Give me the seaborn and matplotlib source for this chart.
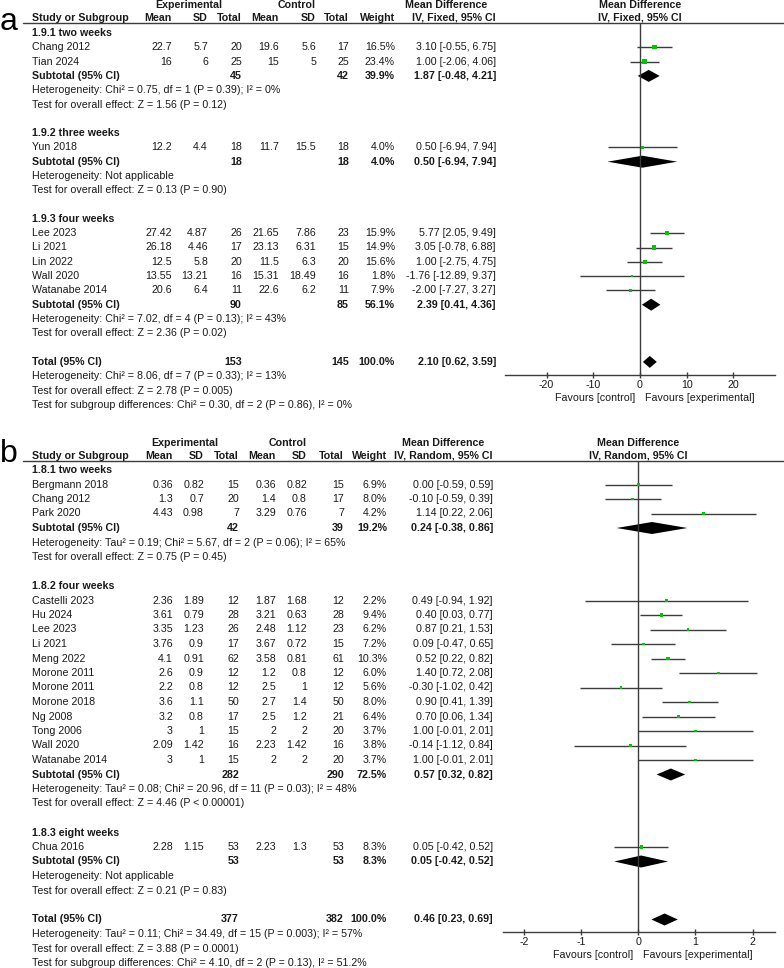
# forest plots: a = fixed effect, b = random effects

import matplotlib
matplotlib.use('Agg')
import matplotlib.pyplot as plt
import seaborn as sns

sns.set_style('white')
plt.rcParams['font.family'] = ['Liberation Sans', 'DejaVu Sans']

# ---------------- panel a ----------------
a_groups = ['1.9.1 two weeks', '1.9.2 three weeks', '1.9.3 four weeks']
a_study = ['Chang 2012', 'Tian 2024', 'Yun 2018', 'Lee 2023', 'Li 2021',
           'Lin 2022', 'Wall 2020', 'Watanabe 2014']
a_group_of = [0, 0, 1, 2, 2, 2, 2, 2]
a_mean_e = [22.7, 16, 12.2, 27.42, 26.18, 12.5, 13.55, 20.6]
a_sd_e = [5.7, 6, 4.4, 4.87, 4.46, 5.8, 13.21, 6.4]
a_n_e = [20, 25, 18, 26, 17, 20, 16, 11]
a_mean_c = [19.6, 15, 11.7, 21.65, 23.13, 11.5, 15.31, 22.6]
a_sd_c = [5.6, 5, 15.5, 7.86, 6.31, 6.3, 18.49, 6.2]
a_n_c = [17, 25, 18, 23, 15, 20, 16, 11]
a_weight = [16.5, 23.4, 4.0, 15.9, 14.9, 15.6, 1.8, 7.9]
a_md = [3.10, 1.00, 0.50, 5.77, 3.05, 1.00, -1.76, -2.00]
a_lo = [-0.55, -2.06, -6.94, 2.05, -0.78, -2.75, -12.89, -7.27]
a_hi = [6.75, 4.06, 7.94, 9.49, 6.88, 4.75, 9.37, 3.27]

a_sub_n_e = [45, 18, 90]
a_sub_n_c = [42, 18, 85]
a_sub_weight = [39.9, 4.0, 56.1]
a_sub_md = [1.87, 0.50, 2.39]
a_sub_lo = [-0.48, -6.94, 0.41]
a_sub_hi = [4.21, 7.94, 4.36]
a_sub_het = ['Heterogeneity: Chi² = 0.75, df = 1 (P = 0.39); I² = 0%',
             'Heterogeneity: Not applicable',
             'Heterogeneity: Chi² = 7.02, df = 4 (P = 0.13); I² = 43%']
a_sub_test = ['Test for overall effect: Z = 1.56 (P = 0.12)',
              'Test for overall effect: Z = 0.13 (P = 0.90)',
              'Test for overall effect: Z = 2.36 (P = 0.02)']

a_tot_n = [153, 145]
a_tot_weight = 100.0
a_tot_ci = [2.10, 0.62, 3.59]
a_tot_notes = ['Heterogeneity: Chi² = 8.06, df = 7 (P = 0.33); I² = 13%',
               'Test for overall effect: Z = 2.78 (P = 0.005)',
               'Test for subgroup differences: Chi² = 0.30, df = 2 (P = 0.86), I² = 0%']
a_ticks = [-20, -10, 0, 10, 20]

# ---------------- panel b ----------------
b_groups = ['1.8.1 two weeks', '1.8.2 four weeks', '1.8.3 eight weeks']
b_study = ['Bergmann 2018', 'Chang 2012', 'Park 2020',
           'Castelli 2023', 'Hu 2024', 'Lee 2023', 'Li 2021', 'Meng 2022',
           'Morone 2011', 'Morone 2011', 'Morone 2018', 'Ng 2008', 'Tong 2006',
           'Wall 2020', 'Watanabe 2014', 'Chua 2016']
b_group_of = [0, 0, 0, 1, 1, 1, 1, 1, 1, 1, 1, 1, 1, 1, 1, 2]
b_mean_e = [0.36, 1.3, 4.43, 2.36, 3.61, 3.35, 3.76, 4.1, 2.6, 2.2, 3.6, 3.2, 3, 2.09, 3, 2.28]
b_sd_e = [0.82, 0.7, 0.98, 1.89, 0.79, 1.23, 0.9, 0.91, 0.9, 0.8, 1.1, 0.8, 1, 1.42, 1, 1.15]
b_n_e = [15, 20, 7, 12, 28, 26, 17, 62, 12, 12, 50, 17, 15, 16, 15, 53]
b_mean_c = [0.36, 1.4, 3.29, 1.87, 3.21, 2.48, 3.67, 3.58, 1.2, 2.5, 2.7, 2.5, 2, 2.23, 2, 2.23]
b_sd_c = [0.82, 0.8, 0.76, 1.68, 0.63, 1.12, 0.72, 0.81, 0.8, 1, 1.4, 1.2, 2, 1.42, 2, 1.3]
b_n_c = [15, 17, 7, 12, 28, 23, 15, 61, 12, 12, 50, 21, 20, 16, 20, 53]
b_weight = [6.9, 8.0, 4.2, 2.2, 9.4, 6.2, 7.2, 10.3, 6.0, 5.6, 8.0, 6.4, 3.7, 3.8, 3.7, 8.3]
b_md = [0.00, -0.10, 1.14, 0.49, 0.40, 0.87, 0.09, 0.52, 1.40, -0.30, 0.90, 0.70, 1.00, -0.14, 1.00, 0.05]
b_lo = [-0.59, -0.59, 0.22, -0.94, 0.03, 0.21, -0.47, 0.22, 0.72, -1.02, 0.41, 0.06, -0.01, -1.12, -0.01, -0.42]
b_hi = [0.59, 0.39, 2.06, 1.92, 0.77, 1.53, 0.65, 0.82, 2.08, 0.42, 1.39, 1.34, 2.01, 0.84, 2.01, 0.52]

b_sub_n_e = [42, 282, 53]
b_sub_n_c = [39, 290, 53]
b_sub_weight = [19.2, 72.5, 8.3]
b_sub_md = [0.24, 0.57, 0.05]
b_sub_lo = [-0.38, 0.32, -0.42]
b_sub_hi = [0.86, 0.82, 0.52]
b_sub_het = ['Heterogeneity: Tau² = 0.19; Chi² = 5.67, df = 2 (P = 0.06); I² = 65%',
             'Heterogeneity: Tau² = 0.08; Chi² = 20.96, df = 11 (P = 0.03); I² = 48%',
             'Heterogeneity: Not applicable']
b_sub_test = ['Test for overall effect: Z = 0.75 (P = 0.45)',
              'Test for overall effect: Z = 4.46 (P < 0.00001)',
              'Test for overall effect: Z = 0.21 (P = 0.83)']

b_tot_n = [377, 382]
b_tot_weight = 100.0
b_tot_ci = [0.46, 0.23, 0.69]
b_tot_notes = ['Heterogeneity: Tau² = 0.11; Chi² = 34.49, df = 15 (P = 0.003); I² = 57%',
               'Test for overall effect: Z = 3.88 (P = 0.0001)',
               'Test for subgroup differences: Chi² = 4.10, df = 2 (P = 0.13), I² = 51.2%']
b_ticks = [-2, -1, 0, 1, 2]

W, H = 784, 968
FS = 7.7
INK = '#1a1a1a'
LINE = '#3c3c3c'
GREEN = '#00c800'

fig = plt.figure(figsize=(W / 100, H / 100), dpi=100)
bg = fig.add_axes([0, 0, 1, 1])
bg.set_xlim(0, W)
bg.set_ylim(H, 0)
bg.axis('off')


def txt(x, y, s, ha='left', bold=False, size=FS):
    bg.text(x, y, s, ha=ha, va='center', fontsize=size, color=INK,
            fontweight='bold' if bold else 'normal')


def ci_text(m, lo, hi):
    return f'{m:.2f} [{lo:.2f}, {hi:.2f}]'


def panel(d, letter, letter_y, top, row0, dy, cols, method, xlim, ax_x, axis_y):
    # cols: right edges of Mean, SD, Total (exp), Mean, SD, Total (ctl), Weight, CI text
    bg.text(0, letter_y, letter, fontsize=23, color='black', va='baseline')
    h1, h2 = top - 18, top - 5
    txt(cols[1] - 19, h1, 'Experimental', ha='center', bold=True)
    txt(cols[4] - 19, h1, 'Control', ha='center', bold=True)
    txt(cols[7] - 50, h1, 'Mean Difference', ha='center', bold=True)
    txt(32, h2, 'Study or Subgroup', bold=True)
    for x, s in zip(cols[:7], ['Mean', 'SD', 'Total', 'Mean', 'SD', 'Total', 'Weight']):
        txt(x, h2, s, ha='right', bold=True)
    txt(cols[7], h2, f'IV, {method}, 95% CI', ha='right', bold=True)
    bg.plot([23, W], [top, top], color=LINE, lw=1)

    x0, x1 = ax_x
    ax = fig.add_axes([x0 / W, 1 - axis_y / H, (x1 - x0) / W, (axis_y - top) / H])
    ax.set_xlim(xlim)
    ax.set_ylim(axis_y, top)
    ax.patch.set_alpha(0)
    zero_px = x0 + (0 - xlim[0]) / (xlim[1] - xlim[0]) * (x1 - x0)
    txt(zero_px, h1, 'Mean Difference', ha='center', bold=True)
    txt(zero_px, h2, f'IV, {method}, 95% CI', ha='center', bold=True)

    def diamond(y, m, lo, hi):
        ax.fill([lo, m, hi, m], [y, y - 6, y, y + 6], color='black', lw=0)

    sq_x, sq_y, sq_w = [], [], []
    y = row0
    for g, name in enumerate(d['groups']):
        txt(32, y, name, bold=True)
        y += dy
        for i, k in enumerate(d['group_of']):
            if k != g:
                continue
            vals = ['%g' % d['mean_e'][i], '%g' % d['sd_e'][i], str(d['n_e'][i]),
                    '%g' % d['mean_c'][i], '%g' % d['sd_c'][i], str(d['n_c'][i]),
                    f"{d['weight'][i]:.1f}%", ci_text(d['md'][i], d['lo'][i], d['hi'][i])]
            txt(32, y, d['study'][i])
            for x, s in zip(cols, vals):
                txt(x, y, s, ha='right')
            ax.hlines(y, d['lo'][i], d['hi'][i], color=LINE, lw=1)
            sq_x.append(d['md'][i])
            sq_y.append(y)
            sq_w.append(d['weight'][i])
            y += dy
        txt(32, y, 'Subtotal (95% CI)', bold=True)
        txt(cols[2], y, str(d['sub_n_e'][g]), ha='right', bold=True)
        txt(cols[5], y, str(d['sub_n_c'][g]), ha='right', bold=True)
        txt(cols[6], y, f"{d['sub_weight'][g]:.1f}%", ha='right', bold=True)
        txt(cols[7], y, ci_text(d['sub_md'][g], d['sub_lo'][g], d['sub_hi'][g]), ha='right', bold=True)
        diamond(y, d['sub_md'][g], d['sub_lo'][g], d['sub_hi'][g])
        y += dy
        txt(32, y, d['sub_het'][g])
        y += dy
        txt(32, y, d['sub_test'][g])
        y += 2 * dy

    m, lo, hi = d['tot_ci']
    txt(32, y, 'Total (95% CI)', bold=True)
    txt(cols[2], y, str(d['tot_n'][0]), ha='right', bold=True)
    txt(cols[5], y, str(d['tot_n'][1]), ha='right', bold=True)
    txt(cols[6], y, f"{d['tot_weight']:.1f}%", ha='right', bold=True)
    txt(cols[7], y, ci_text(m, lo, hi), ha='right', bold=True)
    diamond(y, m, lo, hi)
    for note in d['tot_notes']:
        y += dy
        txt(32, y, note)

    # square side (px) roughly sqrt(weight %), at least ~2.5 px
    sizes = {w: (0.72 * max(2.5, 1.05 * w ** 0.5)) ** 2 for w in sq_w}
    sns.scatterplot(x=sq_x, y=sq_y, size=sq_w, sizes=sizes, marker='s', color=GREEN,
                    edgecolor='none', linewidth=0, legend=False, zorder=3, ax=ax)

    ax.axvline(0, color=LINE, lw=1)
    for side in ['top', 'left', 'right']:
        ax.spines[side].set_visible(False)
    ax.spines['bottom'].set_color(LINE)
    ax.spines['bottom'].set_linewidth(1)
    ax.set_yticks([])
    ax.set_xticks(d['ticks'])
    ax.set_xticklabels([f'{t:g}' for t in d['ticks']], fontsize=FS, color=INK)
    ax.tick_params(axis='x', direction='inout', length=5, width=1, color=LINE, pad=1, bottom=True)
    ax.set_xlabel('')
    ax.set_ylabel('')
    txt(zero_px - 5, axis_y + 23, 'Favours [control]', ha='right')
    txt(zero_px + 5, axis_y + 23, 'Favours [experimental]', ha='left')


panel_a = dict(groups=a_groups, study=a_study, group_of=a_group_of,
               mean_e=a_mean_e, sd_e=a_sd_e, n_e=a_n_e,
               mean_c=a_mean_c, sd_c=a_sd_c, n_c=a_n_c,
               weight=a_weight, md=a_md, lo=a_lo, hi=a_hi,
               sub_n_e=a_sub_n_e, sub_n_c=a_sub_n_c, sub_weight=a_sub_weight,
               sub_md=a_sub_md, sub_lo=a_sub_lo, sub_hi=a_sub_hi,
               sub_het=a_sub_het, sub_test=a_sub_test,
               tot_n=a_tot_n, tot_weight=a_tot_weight, tot_ci=a_tot_ci,
               tot_notes=a_tot_notes, ticks=a_ticks)
panel_b = dict(groups=b_groups, study=b_study, group_of=b_group_of,
               mean_e=b_mean_e, sd_e=b_sd_e, n_e=b_n_e,
               mean_c=b_mean_c, sd_c=b_sd_c, n_c=b_n_c,
               weight=b_weight, md=b_md, lo=b_lo, hi=b_hi,
               sub_n_e=b_sub_n_e, sub_n_c=b_sub_n_c, sub_weight=b_sub_weight,
               sub_md=b_sub_md, sub_lo=b_sub_lo, sub_hi=b_sub_hi,
               sub_het=b_sub_het, sub_test=b_sub_test,
               tot_n=b_tot_n, tot_weight=b_tot_weight, tot_ci=b_tot_ci,
               tot_notes=b_tot_notes, ticks=b_ticks)

panel(panel_a, 'a', letter_y=30, top=23, row0=33, dy=14.3,
      cols=[172, 208, 242, 279, 316, 349, 395, 496], method='Fixed',
      xlim=(-28.9, 28.9), ax_x=(505, 775), axis_y=375)
panel(panel_b, 'b', letter_y=462, top=461, row0=470, dy=14.5,
      cols=[173, 204, 239, 276, 307, 344, 387, 493], method='Random',
      xlim=(-2.37, 2.39), ax_x=(502.7, 775), axis_y=932)

fig.savefig('out.png', dpi=100)
